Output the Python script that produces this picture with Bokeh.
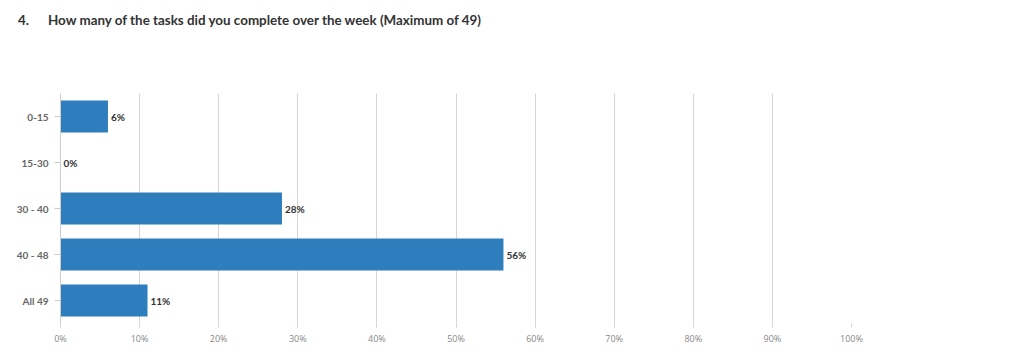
from bokeh.plotting import figure
from bokeh.models import FactorRange, Range1d, FixedTicker, ColumnDataSource, Div
from bokeh.layouts import column
from bokeh.core.properties import value
from bokeh.embed import file_html
from bokeh.resources import INLINE

categories = ["0-15", "15-30", "30 - 40", "40 - 48", "All 49"]
percents = [6, 0, 28, 56, 11]
pct_labels = ["6%", "0%", "28%", "56%", "11%"]
x_ticks = [0, 10, 20, 30, 40, 50, 60, 70, 80, 90, 100]
title_num = "4."
title_text = "How many of the tasks did you complete over the week (Maximum of 49)"

factors = list(reversed(categories))
src = ColumnDataSource(dict(cat=categories, val=percents, lab=pct_labels))

title = Div(
    text=(f'<div style="font-family:Lato;font-size:13.4px;font-weight:bold;color:#333333;'
          f'padding:11px 0 0 18px;white-space:nowrap;">'
          f'<span style="display:inline-block;width:30px;">{title_num}</span>{title_text}</div>'),
    width=1008, height=40, margin=0)

p = figure(width=1008, height=307, output_backend="svg", toolbar_location=None,
           y_range=FactorRange(factors=factors, range_padding=0),
           x_range=Range1d(0, 100),
           min_border_left=60, min_border_right=157, min_border_top=53, min_border_bottom=24,
           margin=0)
p.outline_line_color = None
p.background_fill_color = "white"
p.border_fill_color = "white"

p.hbar(y="cat", right="val", left=0, height=0.7, source=src,
       fill_color="#2e7ebd", line_color=None)
p.text(x="val", y="cat", text="lab", source=src, x_offset=3,
       text_font=value("Lato"), text_font_size="10px", text_font_style="bold",
       text_color="#333333", text_baseline="middle", text_align="left")

p.xaxis.ticker = FixedTicker(ticks=x_ticks)
p.xaxis.major_label_overrides = {t: f"{t}%" for t in x_ticks}
p.xaxis.axis_line_color = None
p.xaxis.major_tick_in = 0
p.xaxis.major_tick_out = 4
p.xaxis.major_tick_line_color = "#d5d5d5"
p.xaxis.minor_tick_line_color = None
p.xaxis.major_label_text_font = "Open Sans"
p.xaxis.major_label_text_font_size = "9px"
p.xaxis.major_label_text_color = "#888888"
p.xaxis.major_label_standoff = 4

p.yaxis.axis_line_color = "#cccccc"
p.yaxis.major_tick_in = 0
p.yaxis.major_tick_out = 6
p.yaxis.major_tick_line_color = "#cccccc"
p.yaxis.major_label_text_font = "Lato"
p.yaxis.major_label_text_font_size = "10px"
p.yaxis.major_label_text_font_style = "bold"
p.yaxis.major_label_text_color = "#666666"
p.yaxis.major_label_standoff = 6

p.xgrid.ticker = FixedTicker(ticks=x_ticks)
p.xgrid.grid_line_color = "#d5d5d5"
p.ygrid.grid_line_color = None

layout = column(title, p, spacing=0)
open("out.html", "w").write(file_html(layout, INLINE))
